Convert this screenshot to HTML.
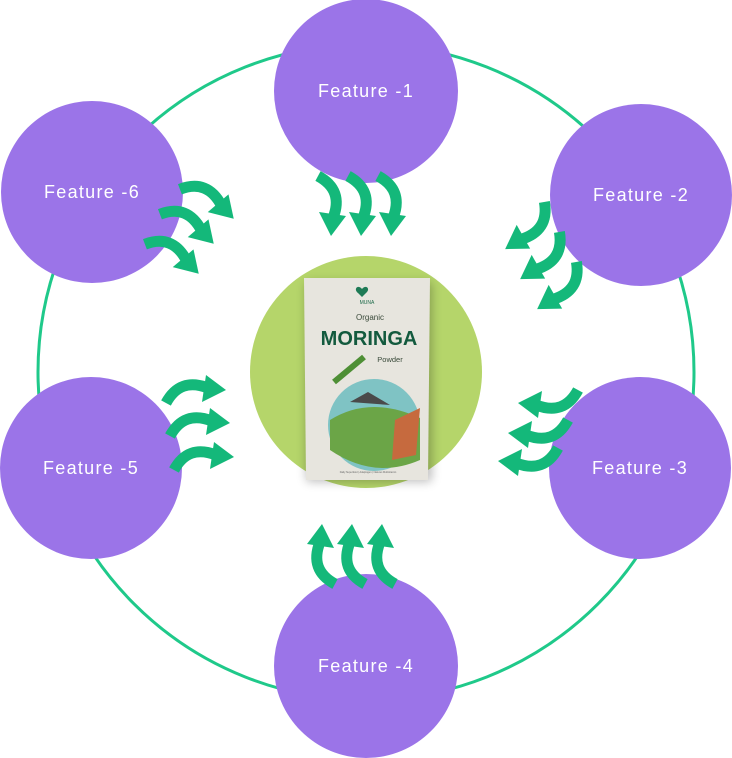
<!DOCTYPE html>
<html><head><meta charset="utf-8"><style>
html,body{margin:0;padding:0;background:#fff;}
body{width:732px;height:758px;overflow:hidden;}
svg{display:block;}
text{font-family:"Liberation Sans",sans-serif;}
</style></head><body>
<svg width="732" height="758" viewBox="0 0 732 758" xmlns="http://www.w3.org/2000/svg">
<defs>
<g id="arr">
<path d="M -10 -2 Q 16 12 5 40" fill="none" stroke="#14B87A" stroke-width="11"/>
<polygon points="-9,34 18,38 3,58" fill="#14B87A"/>
</g>
<filter id="sh" x="-30%" y="-30%" width="160%" height="160%"><feGaussianBlur stdDeviation="5"/></filter>
</defs>
<circle cx="366" cy="372" r="328" fill="none" stroke="#1FC98A" stroke-width="3"/>
<circle cx="366" cy="372" r="116" fill="#B5D56A"/>
<rect x="306" y="282" width="126" height="200" rx="4" fill="#000" opacity="0.25" filter="url(#sh)"/>
<path d="M304 278 L430 278 L428 480 L306 480 Z" fill="#E7E5DE"/>
<path d="M362 289 c-4 -5 -9 0 -4 4 l4 4 l4 -4 c5 -4 0 -9 -4 -4z" fill="#1E7A55"/>
<text x="367" y="304" font-size="5" fill="#1E6B4A" text-anchor="middle">MUNA</text>
<text x="370" y="320" font-size="8" fill="#3a4a3a" text-anchor="middle">Organic</text>
<text x="369" y="345" font-size="20" font-weight="bold" fill="#135A3E" text-anchor="middle">MORINGA</text>
<text x="390" y="362" font-size="7.5" fill="#3a4a3a" text-anchor="middle">Powder</text>
<circle cx="374" cy="425" r="46" fill="#7FC3C4"/>
<path d="M330 420 Q370 395 420 418 L420 460 Q374 480 330 450 Z" fill="#6BA547"/>
<path d="M350 402 L368 392 L390 405 Z" fill="#4a4a4a"/>
<path d="M395 420 L420 408 L416 455 L392 460 Z" fill="#C66A3E"/>
<path d="M334 382 l30 -25" stroke="#4E8F35" stroke-width="6"/>
<text x="368" y="473" font-size="2.5" fill="#666" text-anchor="middle">Daily Superfood | Adaptogen | Natures Multivitamin</text>
<g fill="#9B74E8">
<circle cx="366" cy="91" r="92"/>
<circle cx="641" cy="195" r="91"/>
<circle cx="640" cy="468" r="91"/>
<circle cx="366" cy="666" r="92"/>
<circle cx="91" cy="468" r="91"/>
<circle cx="92" cy="192" r="91"/>
</g>
<g fill="#fff" font-size="18" letter-spacing="1.3" text-anchor="middle">
<text x="366" y="97">Feature -1</text>
<text x="641" y="201">Feature -2</text>
<text x="640" y="474">Feature -3</text>
<text x="366" y="672">Feature -4</text>
<text x="91" y="474">Feature -5</text>
<text x="92" y="198">Feature -6</text>
</g>
<use href="#arr" transform="translate(328,178)"/>
<use href="#arr" transform="translate(358,178)"/>
<use href="#arr" transform="translate(388,178)"/>
<use href="#arr" transform="translate(549,211) rotate(52)"/>
<use href="#arr" transform="translate(564,241) rotate(52)"/>
<use href="#arr" transform="translate(581,271) rotate(52)"/>
<use href="#arr" transform="translate(576,400) rotate(90)"/>
<use href="#arr" transform="translate(566,430) rotate(90)"/>
<use href="#arr" transform="translate(556,458) rotate(90)"/>
<use href="#arr" transform="translate(325,582) rotate(180)"/>
<use href="#arr" transform="translate(355,582) rotate(180)"/>
<use href="#arr" transform="translate(385,582) rotate(180)"/>
<use href="#arr" transform="translate(168,393) rotate(-90)"/>
<use href="#arr" transform="translate(172,426) rotate(-90)"/>
<use href="#arr" transform="translate(176,460) rotate(-90)"/>
<use href="#arr" transform="translate(188,183) rotate(-49)"/>
<use href="#arr" transform="translate(168,208) rotate(-49)"/>
<use href="#arr" transform="translate(153,238) rotate(-49)"/>
</svg>
</body></html>
